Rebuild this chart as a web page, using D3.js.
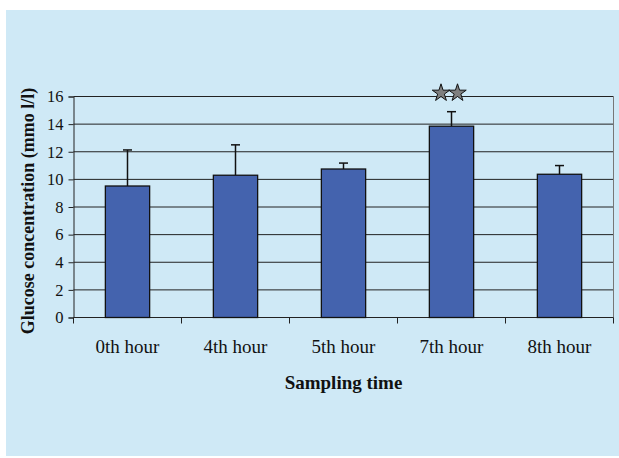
<!DOCTYPE html>
<html>
<head>
<meta charset="utf-8">
<script src="https://cdn.jsdelivr.net/npm/d3@7"></script>
<style>
  body { margin: 0; background: #fff; }
  svg { display: block; font-family: "Liberation Serif", "Times New Roman", serif; }
</style>
</head>
<body>
<div id="chart"></div>
<script>
// chart data
const categories = ["0th hour", "4th hour", "5th hour", "7th hour", "8th hour"];
const means = [9.52, 10.3, 10.75, 13.85, 10.37];
const errTops = [12.13, 12.5, 11.18, 14.9, 11.0];
const yTicks = [0, 2, 4, 6, 8, 10, 12, 14, 16];
const starredCategory = "7th hour";

const svg = d3.select("#chart").append("svg")
  .attr("width", 619)
  .attr("height", 458);

// light blue panel
svg.append("rect")
  .attr("x", 6).attr("y", 10)
  .attr("width", 613).attr("height", 446)
  .attr("fill", "#cfe9f6");

const plotLeft = 73.5, plotRight = 613.5, plotTop = 96.5, plotBottom = 317.5;

const x = d3.scaleBand().domain(categories).range([plotLeft, plotRight]).paddingInner(0.59).paddingOuter(0.295);
const xOuter = d3.scaleBand().domain(categories).range([plotLeft, plotRight]);
const y = d3.scaleLinear().domain([0, 16]).range([plotBottom, plotTop]);

// gridlines
svg.append("g")
  .selectAll("line")
  .data(yTicks.filter(d => d > 0))
  .enter()
  .append("line")
  .attr("x1", plotLeft).attr("x2", plotRight)
  .attr("y1", d => y(d)).attr("y2", d => y(d))
  .attr("stroke", "#222")
  .attr("stroke-width", 1);

// right border
svg.append("line")
  .attr("x1", plotRight).attr("x2", plotRight)
  .attr("y1", plotTop).attr("y2", plotBottom)
  .attr("stroke", "#777");

// y axis
const yAxis = d3.axisLeft(y).tickValues(yTicks).tickSize(5).tickPadding(5);
const gy = svg.append("g")
  .attr("transform", `translate(${plotLeft},0)`)
  .call(yAxis);
gy.select(".domain").attr("stroke", "#222");
gy.selectAll(".tick line").attr("stroke", "#222");
gy.selectAll("text").attr("font-size", 16.5).attr("fill", "#111").attr("font-family", "Liberation Serif");

// x axis: ticks at category boundaries
svg.append("line")
  .attr("x1", plotLeft).attr("x2", plotRight)
  .attr("y1", plotBottom).attr("y2", plotBottom)
  .attr("stroke", "#222");
const boundaries = categories.map(c => xOuter(c)).concat([plotRight]);
svg.append("g")
  .selectAll("line")
  .data(boundaries)
  .enter()
  .append("line")
  .attr("x1", d => d).attr("x2", d => d)
  .attr("y1", plotBottom).attr("y2", plotBottom + 6)
  .attr("stroke", "#222");

svg.append("g")
  .selectAll("text")
  .data(categories)
  .enter()
  .append("text")
  .attr("x", d => xOuter(d) + xOuter.bandwidth() / 2)
  .attr("y", 353)
  .attr("text-anchor", "middle")
  .attr("font-size", 19)
  .attr("fill", "#111")
  .text(d => d);

// error bars
const errs = svg.append("g");
categories.forEach((c, i) => {
  const cx = x(c) + x.bandwidth() / 2;
  errs.append("line")
    .attr("x1", cx).attr("x2", cx)
    .attr("y1", y(means[i])).attr("y2", y(errTops[i]))
    .attr("stroke", "#111").attr("stroke-width", 1.5);
  errs.append("line")
    .attr("x1", cx - 4.5).attr("x2", cx + 4.5)
    .attr("y1", y(errTops[i])).attr("y2", y(errTops[i]))
    .attr("stroke", "#111").attr("stroke-width", 1.5);
});

// bars
svg.append("g")
  .selectAll("rect")
  .data(means)
  .enter()
  .append("rect")
  .attr("x", (d, i) => x(categories[i]))
  .attr("y", d => y(d))
  .attr("width", x.bandwidth())
  .attr("height", d => y(0) - y(d))
  .attr("fill", "#4463ae")
  .attr("stroke", "#111")
  .attr("stroke-width", 1.3);

// significance stars
const star = d3.symbol().type(d3.symbolStar).size(95);
const sx = x(starredCategory) + x.bandwidth() / 2;
[-10.5, 6].forEach(dx => {
  svg.append("path")
    .attr("d", star())
    .attr("transform", `translate(${sx + dx},93)`)
    .attr("fill", "#7f7f7f")
    .attr("stroke", "#111")
    .attr("stroke-width", 1);
});

// axis titles
svg.append("text")
  .attr("transform", `translate(28,${(plotTop + plotBottom) / 2 + 4}) rotate(-90)`)
  .attr("text-anchor", "middle")
  .attr("dominant-baseline", "central")
  .attr("font-size", 18)
  .attr("font-weight", "bold")
  .attr("fill", "#111")
  .text("Glucose concentration (mmo l/l)");

svg.append("text")
  .attr("x", (plotLeft + plotRight) / 2)
  .attr("y", 389)
  .attr("text-anchor", "middle")
  .attr("font-size", 19)
  .attr("font-weight", "bold")
  .attr("fill", "#111")
  .text("Sampling time");
</script>
</body>
</html>
